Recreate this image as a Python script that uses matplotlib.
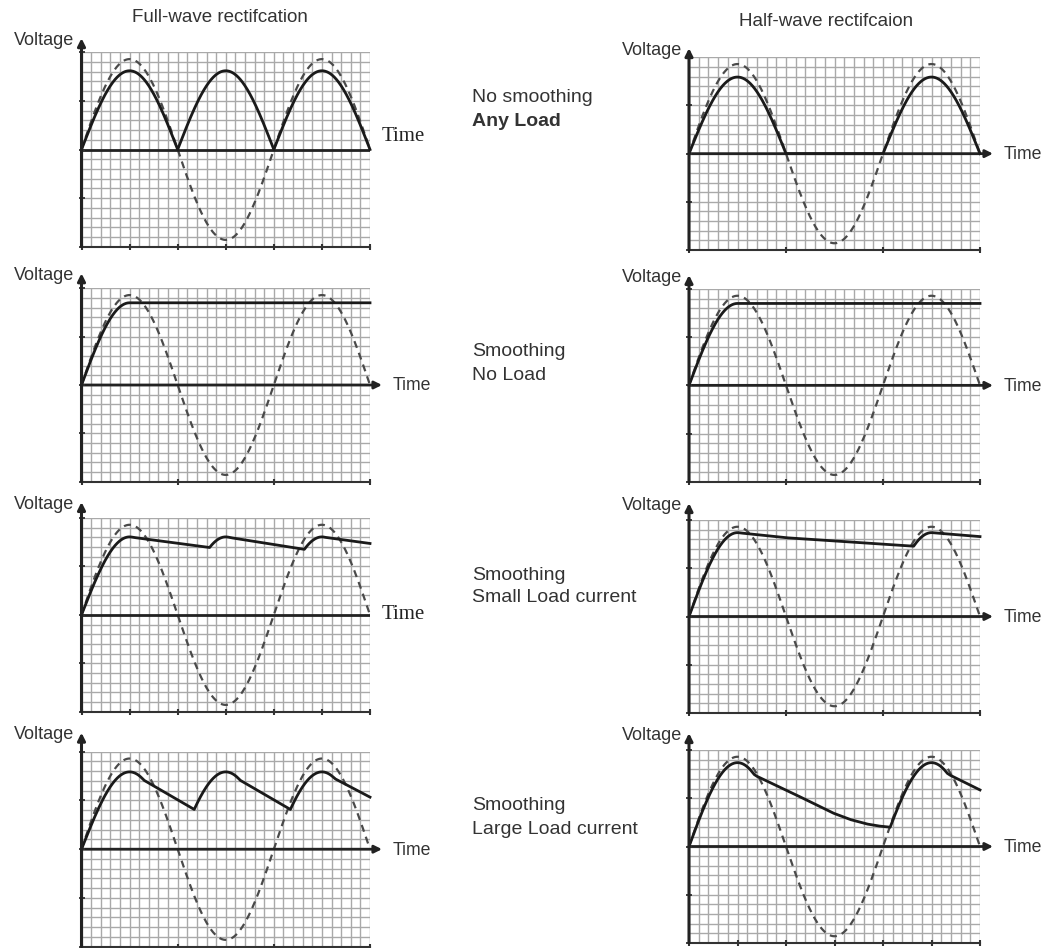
import numpy as np
import matplotlib
matplotlib.use("Agg")
import matplotlib.pyplot as plt

W, H = 1047, 948
plt.rcParams['font.family'] = ['Liberation Sans', 'DejaVu Sans']

# ---------------- data (in grid squares) ----------------
grid_cols = 30
grid_half_rows = 10
period = 20            # squares per mains cycle
input_amplitude = 9.3  # dashed input sine

titles = ["Full-wave rectifcation", "Half-wave rectifcaion"]
row_labels = [("No smoothing", "Any Load"),
              ("Smoothing", "No Load"),
              ("Smoothing", "Small Load current"),
              ("Smoothing", "Large Load current")]

# output peak amplitude per [row][col]
out_amp = [[8.1, 7.95], [8.5, 8.5], [8.05, 8.69], [7.93, 8.69]]
rect_kind = ["full", "half"]

# capacitor discharge segments per [row][col]: lists of (x, y) points
decay_segments = [
    [[], []],
    [[[(5, 8.5), (30, 8.5)]],
     [[(5, 8.5), (30, 8.5)]]],
    [[[(5, 8.05), (12.9, 7.0), (14.0, 6.85)],
      [(15, 8.05), (22.9, 6.8), (24.0, 6.65)],
      [(25, 8.05), (30, 7.37)]],
     [[(5, 8.69), (9.9, 8.17), (22.8, 7.31), (24.0, 7.23)],
      [(25, 8.69), (30, 8.28)]]],
    [[[(5, 7.93), (11.9, 3.97), (12.5, 3.6)],
      [(15, 7.93), (21.9, 3.97), (22.5, 3.6)],
      [(25, 7.93), (30, 5.34)]],
     [[(5, 8.69), (6.95, 7.3), (8.0, 6.8), (9.5, 6.08), (11.4, 5.17),
       (13.1, 4.33), (14.9, 3.45), (16.6, 2.8), (18.3, 2.34), (19.5, 2.13),
       (20.7, 2.0), (21.5, 1.95)],
      [(25, 8.69), (26.9, 7.4), (30, 5.86)]]],
]

# ---------------- layout (pixels) ----------------
col_x = [(81.5, 370.0), (689.0, 980.0)]
row_y = [[(52.3, 246.7), (57.3, 250.0)],
         [(288.3, 481.7), (289.0, 481.7)],
         [(518.0, 711.7), (520.0, 713.0)],
         [(751.7, 946.7), (750.0, 943.0)]]
arrow_tip = [[1.45, 0.95], [1.55, 1.45], [1.65, 1.75], [1.95, 1.75]]  # squares above top
tick_step = [[5, 10], [10, 10], [5, 10], [10, 5]]
time_arrow = [[False, True], [True, True], [False, True], [True, True]]
label_y = [(97, 121), (352, 375), (575, 598), (806, 829)]

fig = plt.figure(figsize=(W / 100, H / 100), dpi=100)


def fx(x):
    return x / W


def fy(y):
    return 1 - y / H


GRID_C = '#a9a9a9'
x = np.linspace(0, grid_cols, 1501)

for r in range(4):
    for c in range(2):
        x0, x1 = col_x[c]
        y0, y1 = row_y[r][c]
        ax = fig.add_axes([fx(x0), fy(y1), (x1 - x0) / W, (y1 - y0) / H])
        ax.set_xlim(0, grid_cols)
        ax.set_ylim(-grid_half_rows, grid_half_rows)
        ax.axis('off')

        # graph paper
        ax.vlines(np.arange(0, grid_cols + 1), -grid_half_rows, grid_half_rows,
                  colors=GRID_C, lw=1.0, zorder=1)
        ax.hlines(np.arange(-grid_half_rows, grid_half_rows + 1), 0, grid_cols,
                  colors=GRID_C, lw=1.0, zorder=1)

        # input sine (dashed)
        s = np.sin(2 * np.pi * x / period)
        ax.plot(x, input_amplitude * s, color='#4a4a4a', lw=1.6,
                ls=(0, (3.2, 2.4)), zorder=3, clip_on=False)

        # output
        A = out_amp[r][c]
        rect = A * np.abs(s) if rect_kind[c] == "full" else A * np.clip(s, 0, None)
        solid = rect.copy()
        for seg in decay_segments[r][c]:
            xs, ys = zip(*seg)
            m = (x >= xs[0]) & (x <= xs[-1])
            solid[m] = np.maximum(solid[m], np.interp(x[m], xs, ys))

        # zero line
        if time_arrow[r][c]:
            tip_px = 382 if c == 0 else 993
            xt = grid_cols + (tip_px - x1) / ((x1 - x0) / grid_cols)
            ax.annotate('', xy=(xt, 0), xytext=(0, 0),
                        arrowprops=dict(arrowstyle='-|>', lw=2.0, color='#222',
                                        mutation_scale=11, shrinkA=0, shrinkB=0),
                        annotation_clip=False, zorder=4)
        else:
            ax.plot([0, grid_cols], [0, 0], color='#222', lw=2.0, zorder=4)

        ax.plot(x, solid, color='#1a1a1a', lw=2.0, zorder=5,
                solid_joinstyle='round', clip_on=False)

        # bottom axis line with ticks
        ax.plot([0, grid_cols], [-grid_half_rows, -grid_half_rows],
                color='#333', lw=1.5, zorder=4, clip_on=False)
        ts = tick_step[r][c]
        tpos = np.arange(0, grid_cols + 1, ts)
        ax.plot(tpos, np.full(len(tpos), -grid_half_rows),
                ls='none', marker='|', ms=4, mew=1.5, color='#333', clip_on=False,
                zorder=4)

        # vertical axis with arrow
        top = grid_half_rows + arrow_tip[r][c]
        ax.annotate('', xy=(0, top), xytext=(0, -grid_half_rows),
                    arrowprops=dict(arrowstyle='-|>', lw=2.2, color='#222',
                                    mutation_scale=11, shrinkA=0, shrinkB=0),
                    annotation_clip=False, zorder=6)
        ax.plot(np.zeros(5), np.arange(-10, 11, 5), ls='none', marker='_', ms=4,
                mew=1.3, color='#333', clip_on=False, zorder=4)

        # labels
        cell_h = (y1 - y0) / (2 * grid_half_rows)
        tip_y_px = y0 - arrow_tip[r][c] * cell_h
        fig.text(fx(x0 - 7), fy(tip_y_px + 2), "Voltage", ha='right', va='center',
                 fontsize=13, color='#333')
        zero_px = (y0 + y1) / 2
        if time_arrow[r][c]:
            tx = 393 if c == 0 else 1004
            fig.text(fx(tx), fy(zero_px + 1), "Time", ha='left', va='center',
                     fontsize=12.7, color='#333')
        else:
            ty = zero_px - 13 if r == 0 else zero_px
            fig.text(fx(382), fy(ty), "Time", ha='left', va='center',
                     fontsize=15, color='#222', family='Liberation Serif')

# column titles
fig.text(fx(220), fy(18), titles[0], ha='center', va='center', fontsize=13.5, color='#333')
fig.text(fx(826), fy(22), titles[1], ha='center', va='center', fontsize=13.5, color='#333')

# row descriptions
for r, (l1, l2) in enumerate(row_labels):
    fig.text(fx(472), fy(label_y[r][0]), l1, ha='left', va='center', fontsize=14,
             color='#333')
    fig.text(fx(472), fy(label_y[r][1]), l2, ha='left', va='center', fontsize=14,
             color='#333', fontweight='bold' if r == 0 else 'normal')

fig.savefig("out.png", dpi=100)
